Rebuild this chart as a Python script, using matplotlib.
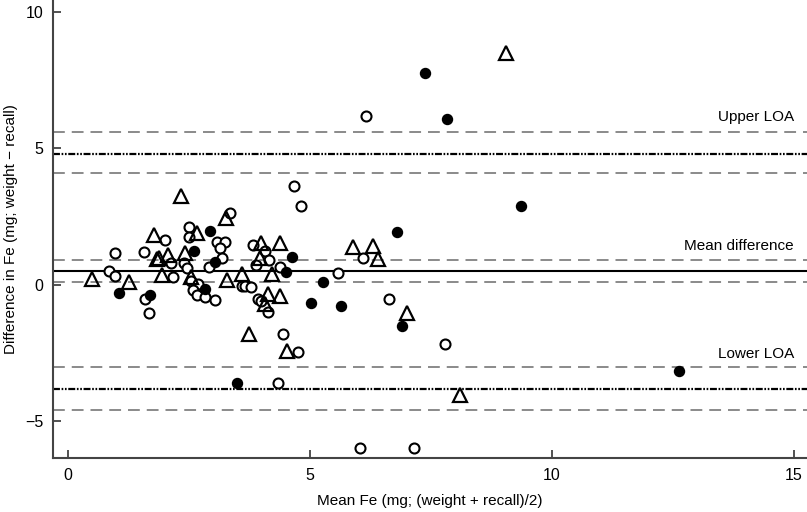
import matplotlib
matplotlib.use("Agg")
import matplotlib.pyplot as plt

plt.rcParams["font.family"] = ["Liberation Sans", "DejaVu Sans"]
plt.rcParams["lines.scale_dashes"] = False

# open circles
open_x = [4.67, 4.81, 6.16, 3.35, 2.0, 2.51, 2.51, 3.07, 3.24, 3.14, 3.18, 3.82,
          0.97, 1.58, 2.13, 2.40, 2.45, 2.92, 3.88, 0.85, 0.98, 2.16, 2.54, 2.68,
          3.59, 3.66, 3.78, 2.59, 2.66, 2.83, 3.04, 1.59, 1.67, 4.06, 4.16, 4.38,
          5.58, 6.09, 3.93, 3.98, 4.14, 6.64, 4.45, 4.76, 4.33, 7.78, 6.03, 7.15]
open_y = [3.63, 2.89, 6.2, 2.65, 1.65, 2.14, 1.77, 1.59, 1.56, 1.34, 0.98, 1.47,
          1.16, 1.2, 0.79, 0.79, 0.61, 0.65, 0.73, 0.52, 0.34, 0.28, 0.15, 0.04,
          -0.04, -0.04, -0.06, -0.18, -0.37, -0.45, -0.55, -0.52, -1.01, 1.25, 0.92, 0.67,
          0.45, 1.0, -0.51, -0.57, -1.0, -0.51, -1.81, -2.47, -3.6, -2.16, -5.97, -5.97]

# filled circles
filled_x = [7.38, 7.83, 9.35, 6.80, 2.93, 2.6, 3.04, 4.62, 4.50, 5.27, 1.05, 2.83,
            1.69, 5.02, 5.64, 6.91, 3.49, 12.62]
filled_y = [7.77, 6.08, 2.9, 1.93, 1.99, 1.26, 0.85, 1.04, 0.49, 0.1, -0.3, -0.16,
            -0.37, -0.67, -0.77, -1.52, -3.58, -3.14]

# open triangles
tri_x = [9.05, 2.33, 3.26, 1.78, 2.66, 1.83, 1.88, 2.07, 2.42, 3.96, 0.50, 1.25,
         1.94, 2.54, 3.28, 3.59, 3.98, 4.39, 4.21, 5.89, 6.31, 6.40, 4.13, 4.37,
         4.07, 7.0, 3.74, 4.52, 8.1]
tri_y = [8.5, 3.26, 2.44, 1.83, 1.89, 0.94, 1.0, 1.1, 1.18, 0.99, 0.22, 0.12,
         0.37, 0.28, 0.18, 0.4, 1.55, 1.55, 0.4, 1.38, 1.44, 0.94, -0.34, -0.4,
         -0.7, -1.01, -1.81, -2.42, -4.03]

mean_diff = 0.5
mean_ci = [0.1, 0.9]
upper_loa = 4.8
upper_ci = [4.1, 5.6]
lower_loa = -3.8
lower_ci = [-4.6, -3.0]

line_labels = ["Upper LOA", "Mean difference", "Lower LOA"]
label_y = [6.15, 1.43, -2.53]

fig = plt.figure(figsize=(8.07, 5.12), dpi=100)
ax = fig.add_axes([0.0657, 0.1055, 0.9343, 0.8945])

gray_dash = dict(color="#8a8a8a", linewidth=1.4, linestyle=(0, (8.5, 5)), zorder=1)
for v in mean_ci + upper_ci + lower_ci:
    ax.axhline(v, **gray_dash)
ax.axhline(mean_diff, color="black", linewidth=1.5, zorder=1)
dashdot = (0, (5, 1.2, 1.2, 1.2, 1.2, 1.2))
ax.axhline(upper_loa, color="black", linewidth=1.6, linestyle=dashdot, zorder=1)
ax.axhline(lower_loa, color="black", linewidth=1.6, linestyle=dashdot, zorder=1)

ax.plot(open_x, open_y, "o", ms=7.2, mfc="white", mec="black", mew=1.5, ls="none", zorder=3)
ax.plot(filled_x, filled_y, "o", ms=7.2, mfc="black", mec="black", mew=1.0, ls="none", zorder=3)
ax.plot(tri_x, tri_y, "^", ms=9.5, mfc="none", mec="black", mew=1.6, ls="none", zorder=3)

for lab, ly in zip(line_labels, label_y):
    ax.text(15.0, ly, lab, ha="right", va="center", fontsize=11)

ax.set_xlim(-0.31, 15.27)
ax.set_ylim(-6.34, 10.44)
ax.set_xticks([0, 5, 10, 15])
ax.set_yticks([-5, 0, 5, 10])
ax.set_yticklabels(["\u22125", "0", "5", "10"])

for side in ["top", "right"]:
    ax.spines[side].set_visible(False)
for side in ["left", "bottom"]:
    ax.spines[side].set_color("#444444")
    ax.spines[side].set_linewidth(1.5)
ax.tick_params(direction="in", length=6, width=1.2, color="#333333",
               labelsize=11.5, pad=7)

ax.set_xlabel("Mean Fe (mg; (weight + recall)/2)", fontsize=11, labelpad=8)
ax.set_ylabel("Difference in Fe (mg; weight \u2212 recall)", fontsize=11, labelpad=5)

fig.savefig("out.png", dpi=100)
